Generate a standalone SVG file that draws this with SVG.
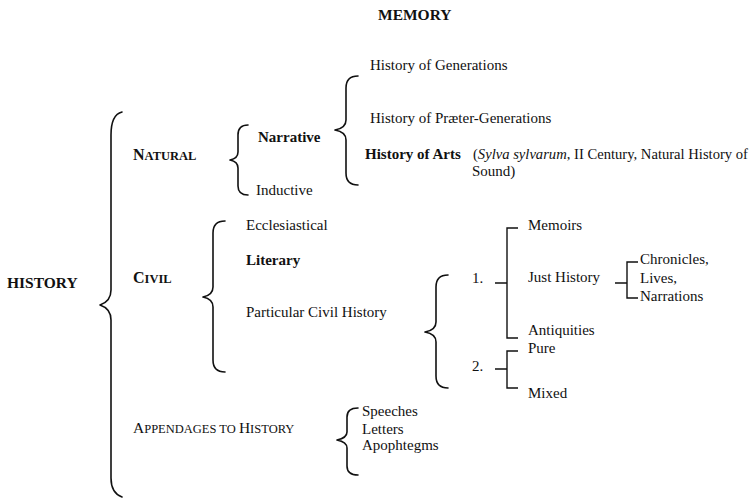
<svg xmlns="http://www.w3.org/2000/svg" width="752" height="499" viewBox="0 0 752 499">
<style>
text{font-family:"Liberation Serif","Times New Roman",serif;font-size:15px;fill:#111}
.b{font-weight:bold}
.sc{font-size:12.5px}
.br{fill:none;stroke:#111;stroke-width:1.6;stroke-linecap:round;stroke-linejoin:round}
.sq{fill:none;stroke:#111;stroke-width:1.4}
</style>
<rect width="752" height="499" fill="#fff"/>
<g id="title"><text x="378" y="20" class="b" style="font-size:15.5px">MEMORY</text></g>
<g id="history"><text x="7" y="288" class="b" style="font-size:15.5px">HISTORY</text></g>
<g id="natural"><text x="133" y="160" class="b" style="font-size:16px">N<tspan class="sc">ATURAL</tspan></text></g>
<g id="narrative"><text x="258" y="142" class="b">Narrative</text></g>
<g id="inductive"><text x="256" y="195">Inductive</text></g>
<g id="gen"><text x="370" y="70">History of Generations</text></g>
<g id="praeter"><text x="370" y="123">History of Præter-Generations</text></g>
<g id="arts"><text x="365" y="159" class="b">History of Arts</text><text x="473" y="159" textLength="275" lengthAdjust="spacingAndGlyphs">(<tspan font-style="italic">Sylva sylvarum</tspan>, II Century, Natural History of</text><text x="472" y="176">Sound)</text></g>
<g id="civil"><text x="133" y="283" class="b" style="font-size:16px">C<tspan class="sc">IVIL</tspan></text></g>
<g id="eccl"><text x="246" y="230">Ecclesiastical</text></g>
<g id="literary"><text x="246" y="265" class="b">Literary</text></g>
<g id="particular"><text x="246" y="317">Particular Civil History</text></g>
<g id="one"><text x="472" y="283">1.</text></g>
<g id="memoirs"><text x="528" y="230">Memoirs</text></g>
<g id="just"><text x="528" y="282">Just History</text></g>
<g id="antiq"><text x="528" y="335">Antiquities</text></g>
<g id="chron"><text x="640" y="264">Chronicles,</text></g>
<g id="lives"><text x="640" y="283">Lives,</text></g>
<g id="narr"><text x="640" y="301">Narrations</text></g>
<g id="two"><text x="472" y="371">2.</text></g>
<g id="pure"><text x="528" y="353">Pure</text></g>
<g id="mixed"><text x="528" y="398">Mixed</text></g>
<g id="append"><text x="133" y="433" style="font-size:15.5px">A<tspan class="sc">PPENDAGES TO </tspan>H<tspan class="sc">ISTORY</tspan></text></g>
<g id="speeches"><text x="362" y="416">Speeches</text></g>
<g id="letters"><text x="362" y="434">Letters</text></g>
<g id="apoph"><text x="362" y="450">Apophtegms</text></g>
<g id="connectors">
<path class="br" d="M122,112 C114,114 111,122 111,135 L111,290 C111,298 106,303 100,305 C106,307 111,312 111,320 L111,478 C111,488 114,494 122,497"/>
<path class="br" d="M248,125 C241,125 238,129 238,135 L238,152 C238,157 235,159 230,160 C235,161 238,163 238,168 L238,186 C238,192 241,195 248,195"/>
<path class="br" d="M358,76 C350,76 346,80 346,88 L346,120 C346,126 341,129 335,130 C341,131 346,134 346,140 L346,173 C346,181 350,185 358,185"/>
<path class="br" d="M225,221 C217,221 213,225 213,233 L213,287 C213,293 208,296 203,297 C208,298 213,301 213,307 L213,360 C213,368 217,372 225,372"/>
<path class="br" d="M448,275 C440,275 436,279 436,287 L436,322 C436,328 431,331 425,332 C431,333 436,336 436,342 L436,376 C436,384 440,388 448,388"/>
<path class="br" d="M358,408 C351,408 347,411 347,417 L347,432 C347,437 342,439 337,440 C342,441 347,443 347,448 L347,466 C347,472 351,475 358,475"/>
<path class="sq" d="M495,283 H507 M518,228 H507 V338 H518"/>
<path class="sq" d="M615,283 H627 M638,262 H627 V298 H638"/>
<path class="sq" d="M495,369 H507 M518,351 H507 V388 H518"/>
</g>
</svg>
